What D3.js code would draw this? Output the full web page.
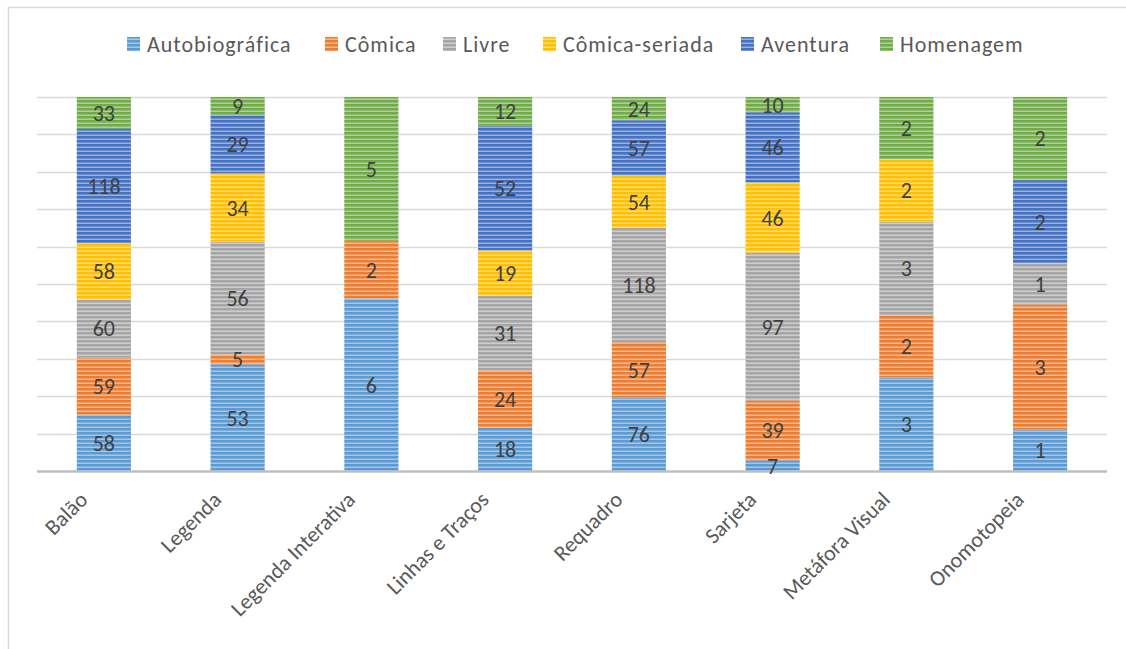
<!DOCTYPE html>
<html>
<head>
<meta charset="utf-8">
<script src="https://cdn.jsdelivr.net/npm/d3@7"></script>
<style>
  body { margin: 0; background: #fff; }
  svg { display: block; font-family: Calibri, Carlito, "Open Sans", sans-serif; }
</style>
</head>
<body>
<svg width="1126" height="649"></svg>
<script>
// categories on the x axis
let categories = ["Balão", "Legenda", "Legenda Interativa", "Linhas e Traços",
  "Requadro", "Sarjeta", "Metáfora Visual", "Onomotopeia"];

// one array per series, same order as categories
let autobiografica = [58, 53, 6, 18, 76, 7, 3, 1];
let comica         = [59, 5, 2, 24, 57, 39, 2, 3];
let livre          = [60, 56, 0, 31, 118, 97, 3, 1];
let comicaSeriada  = [58, 34, 0, 19, 54, 46, 2, 0];
let aventura       = [118, 29, 0, 52, 57, 46, 0, 2];
let homenagem      = [33, 9, 5, 12, 24, 10, 2, 2];

let seriesNames = ["Autobiográfica", "Cômica", "Livre", "Cômica-seriada", "Aventura", "Homenagem"];
let seriesValues = [autobiografica, comica, livre, comicaSeriada, aventura, homenagem];
let colors = ["#5B9BD5", "#ED7D31", "#A5A5A5", "#FFC000", "#4472C4", "#70AD47"];

// build rows for d3.stack
let data = categories.map(function(c, i){
  let row = {cat: c};
  seriesNames.forEach(function(s, k){ row[s] = seriesValues[k][i]; });
  return row;
});

const svg = d3.select('svg');

// outer frame
svg.append('rect')
  .attr('x', 8.5).attr('y', 7.5)
  .attr('width', 1130).attr('height', 660)
  .attr('fill', 'none')
  .attr('stroke', '#d9d9d9')
  .attr('stroke-width', 1.5);

const plotLeft = 37, plotRight = 1107, plotTop = 97, plotBottom = 471;

const x = d3.scaleBand()
  .domain(categories)
  .range([plotLeft, plotRight])
  .paddingInner(0.595)
  .paddingOuter(0.2975);

const y = d3.scaleLinear()
  .domain([0, 1])
  .range([plotBottom, plotTop]);

// stripe patterns (horizontal lines like the Excel fill)
const defs = svg.append('defs');
colors.forEach(function(c, k){
  let p = defs.append('pattern')
    .attr('id', 'pat' + k)
    .attr('patternUnits', 'userSpaceOnUse')
    .attr('width', 8).attr('height', 4);
  p.append('rect').attr('width', 8).attr('height', 4).attr('fill', c);
  p.append('rect').attr('y', 2.6).attr('width', 8).attr('height', 1.2)
    .attr('fill', '#fff').attr('opacity', 0.55);
});

// gridlines every 10%
svg.append('g')
  .selectAll('line')
  .data(d3.range(1, 11).map(d => d / 10))
  .join('line')
  .attr('x1', plotLeft).attr('x2', plotRight)
  .attr('y1', d => Math.round(y(d)) + 0.5)
  .attr('y2', d => Math.round(y(d)) + 0.5)
  .attr('stroke', '#d9d9d9')
  .attr('stroke-width', 1.5);

const stack = d3.stack()
  .keys(seriesNames)
  .offset(d3.stackOffsetExpand);
const layers = stack(data);

const layerG = svg.append('g')
  .selectAll('g')
  .data(layers)
  .join('g')
  .attr('fill', (d, k) => 'url(#pat' + k + ')');

layerG.selectAll('rect')
  .data(d => d.filter(s => s[1] - s[0] > 0))
  .join('rect')
  .attr('x', d => x(d.data.cat))
  .attr('width', x.bandwidth())
  .attr('y', d => y(d[1]))
  .attr('height', d => y(d[0]) - y(d[1]));

// x axis line
svg.append('line')
  .attr('x1', plotLeft).attr('x2', plotRight)
  .attr('y1', plotBottom + 0.5).attr('y2', plotBottom + 0.5)
  .attr('stroke', '#bfbfbf')
  .attr('stroke-width', 2.5);

// value labels
layers.forEach(function(layer, k){
  svg.append('g')
    .selectAll('text')
    .data(layer.filter(s => s[1] - s[0] > 0))
    .join('text')
    .attr('x', d => x(d.data.cat) + x.bandwidth() / 2)
    .attr('y', d => (y(d[0]) + y(d[1])) / 2)
    .attr('dy', '0.36em')
    .attr('text-anchor', 'middle')
    .attr('fill', '#404040')
    .style('font-size', '22px')
    .text(d => d.data[seriesNames[k]]);
});

// category labels, rotated
svg.append('g')
  .selectAll('text')
  .data(categories)
  .join('text')
  .attr('transform', d => `translate(${x(d) + x.bandwidth() / 2 - 15},${plotBottom + 30}) rotate(-45)`)
  .attr('text-anchor', 'end')
  .attr('fill', '#595959')
  .style('font-size', '22px')
  .text(d => d);

// legend
let legendX = [127, 325, 443, 543, 741, 880];
const leg = svg.append('g')
  .selectAll('g')
  .data(seriesNames)
  .join('g')
  .attr('transform', (d, k) => `translate(${legendX[k]},44)`);

leg.append('rect')
  .attr('x', 0).attr('y', -7)
  .attr('width', 13).attr('height', 14)
  .attr('fill', (d, k) => 'url(#pat' + k + ')');

leg.append('text')
  .attr('x', 20).attr('y', 0)
  .attr('dy', '0.36em')
  .attr('fill', '#595959')
  .style('font-size', '22px')
  .style('letter-spacing', '1px')
  .text(d => d);
</script>
</body>
</html>
